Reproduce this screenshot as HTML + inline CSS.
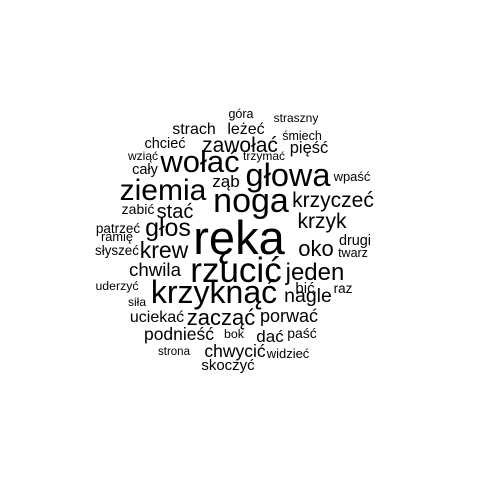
<!DOCTYPE html>
<html><head><meta charset="utf-8"><style>
html,body{margin:0;padding:0;background:#fff}
svg text{font-family:"Liberation Sans",sans-serif;fill:#000}
</style></head><body>
<svg id="cloud" width="480" height="480" viewBox="0 0 480 480" xmlns="http://www.w3.org/2000/svg"></svg>
<script>
const words=["ręka","noga","rzucić","krzyknąć","głowa","ziemia","wołać","jeden","zacząć","krew","oko","głos","zawołać","krzyczeć","krzyk","stać","nagle","chwila","porwać","podnieść","chwycić","dać","strach","leżeć","pięść","ząb","skoczyć","uciekać","chcieć","zabić","cały","wziąć","trzymać","śmiech","góra","straszny","wpaść","patrzeć","ramię","słyszeć","drugi","twarz","bić","raz","uderzyć","siła","bok","paść","strona","widzieć"];
const sizes=[47,34,35,32,32.5,30,31,24,22,23,22,25,21,21,21,20,19.5,18.7,18,17.5,17.5,17,16,16,16.5,17,15,16,14.5,14,14.5,12,12,12.5,12.5,12,13,13.5,12.8,13.4,14.4,12.5,15,13.5,12.3,12,12.4,14,11.5,13];
const xs=[239,251,236,214,288,163,200,315,221,164,316,168,240,333,322,175,308,155,289,179,235,270,194,246,309,226,228,157,165,138,145,143,264,302,241,296,352,118,117,117,355,353,305,343,117,137,234,302,174,288];
const ys=[254,212,282,303,186,200,172,280,325,258,256,236,152,207,228,218,302,276,322,340,357,342,134,134,153,187,370,322,148,214,174,160,160,140,118,122,181,233,241,255,245,257,293,293,290,306,338,338,355,358];
const svg=document.getElementById('cloud');
words.forEach((w,i)=>{
  const t=document.createElementNS('http://www.w3.org/2000/svg','text');
  t.setAttribute('x',xs[i]);t.setAttribute('y',ys[i]);
  t.setAttribute('font-size',sizes[i]);t.setAttribute('text-anchor','middle');
  
  
  t.textContent=w;svg.appendChild(t);
});
</script>
</body></html>
